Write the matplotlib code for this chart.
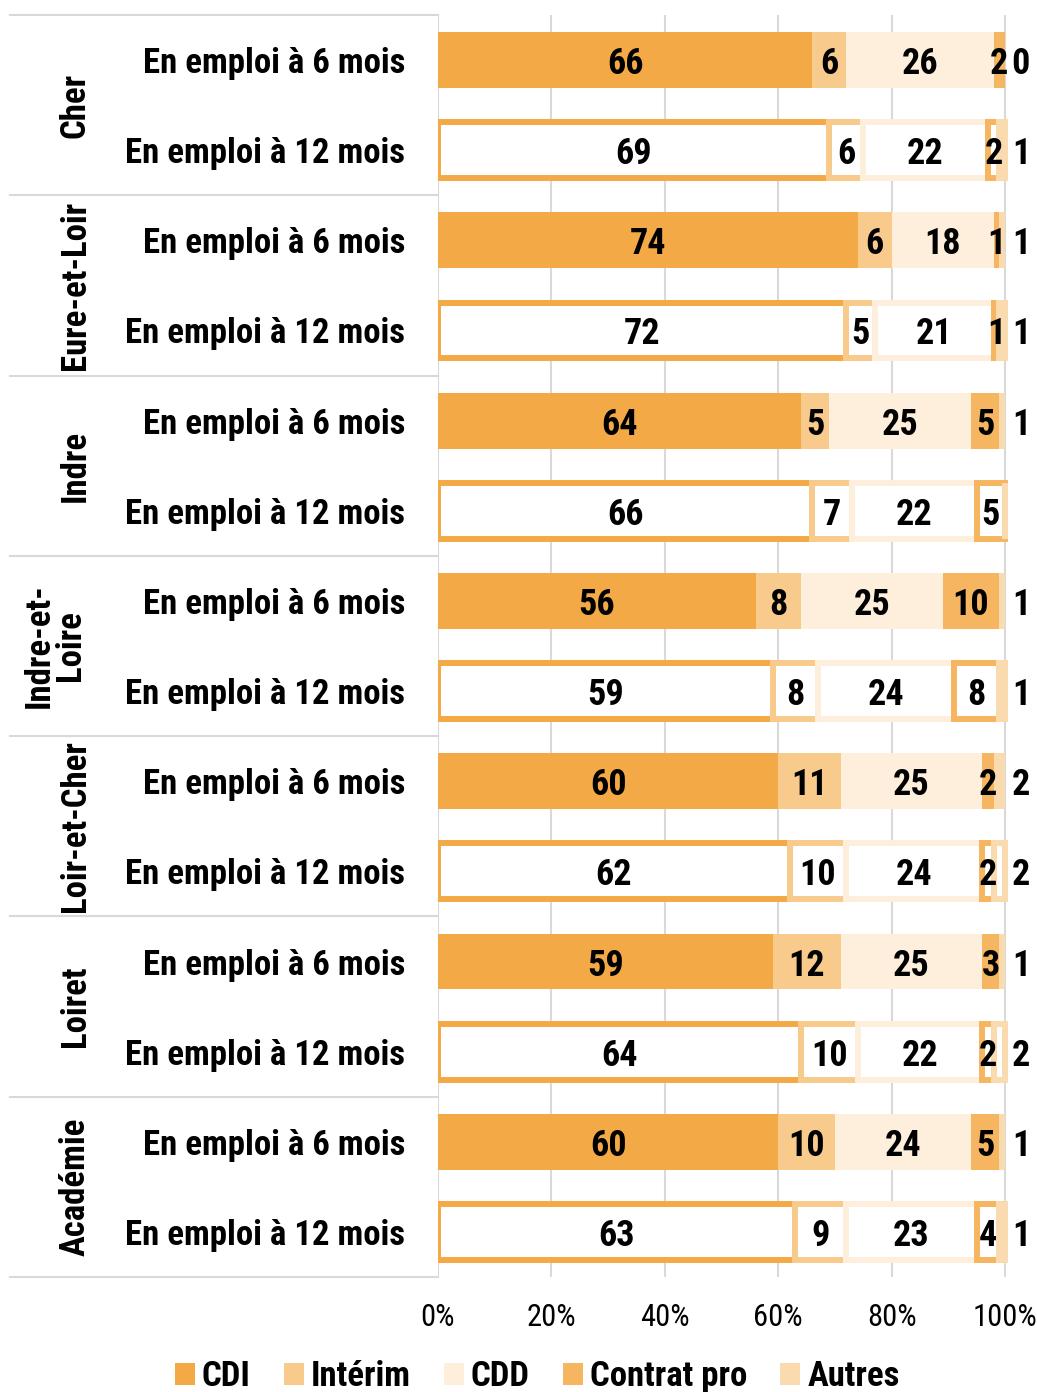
import matplotlib
matplotlib.use("Agg")
import matplotlib.pyplot as plt
from matplotlib import font_manager
from matplotlib.transforms import blended_transform_factory
from matplotlib.patches import Patch

groups = ["Cher", "Eure-et-Loir", "Indre", "Indre-et-\nLoire", "Loir-et-Cher", "Loiret", "Académie"]
periods = ["En emploi à 6 mois", "En emploi à 12 mois"]
series = ["CDI", "Intérim", "CDD", "Contrat pro", "Autres"]
colors = ["#F4A947", "#F8CB8C", "#FDEFDB", "#F6B661", "#FADBAF"]

# one row per (group, period), 6 mois first
cdi = [66, 69, 74, 72, 64, 66, 56, 59, 60, 62, 59, 64, 60, 63]
interim = [6, 6, 6, 5, 5, 7, 8, 8, 11, 10, 12, 10, 10, 9]
cdd = [26, 22, 18, 21, 25, 22, 25, 24, 25, 24, 25, 22, 24, 23]
contrat_pro = [2, 2, 1, 1, 5, 5, 10, 8, 2, 2, 3, 2, 5, 4]
autres = [0, 1, 1, 1, 1, None, 1, 1, 2, 2, 1, 2, 1, 1]

names = {f.name for f in font_manager.fontManager.ttflist}
narrow = next((f for f in ["Roboto Condensed", "PT Sans Narrow", "Liberation Sans"] if f in names),
              "DejaVu Sans")
plt.rcParams["font.family"] = [narrow, "DejaVu Sans"]

W, H = 1037, 1392
fig = plt.figure(figsize=(W / 100, H / 100), dpi=100)
ax = fig.add_axes([438 / W, 1 - 1277 / H, 1 - 438 / W, 1262 / H])

n = len(cdi)
rows = list(range(n))
data = [cdi, interim, cdd, contrat_pro, autres]
left = [0.0] * n
for k, (vals, col) in enumerate(zip(data, colors)):
    for i in rows:
        v = vals[i] if vals[i] is not None else 0
        if i % 2 == 0:
            ax.barh(i, v, left=left[i], height=0.62, color=col, edgecolor="none", zorder=2)
        else:
            ax.barh(i, v, left=left[i], height=0.62, facecolor="white", edgecolor=col,
                    linewidth=4.3, zorder=2)
        if vals[i] is not None:
            if k == 4:
                x = 102.8
            else:
                x = left[i] + v / 2
            ax.text(x, i, str(vals[i]), ha="center", va="center_baseline", fontsize=26,
                    fontweight="bold", color="black", zorder=4)
        left[i] += v

ax.set_xlim(0, (W - 438) / 5.67)
ax.set_ylim(n - 0.5, -0.5)
ax.set_xticks([0, 20, 40, 60, 80, 100])
ax.set_xticklabels(["0%", "20%", "40%", "60%", "80%", "100%"], fontsize=22)
ax.tick_params(axis="x", length=0, pad=19)
ax.set_yticks([])
for s in ax.spines.values():
    s.set_visible(False)
ax.grid(axis="x", color="#D9D9D9", linewidth=1.5, zorder=0)

tr = blended_transform_factory(ax.transAxes, ax.transData)
for i in rows:
    ax.text(-0.055, i, periods[i % 2], transform=tr, ha="right", va="center_baseline",
            fontsize=25, fontweight="bold")
for g, name in enumerate(groups):
    xg = -0.64 if "\n" in name else -0.606
    ax.text(xg, 2 * g + 0.5, name, transform=tr, ha="center", va="center",
            rotation=90, fontsize=25, fontweight="bold", linespacing=0.95)
for g in range(len(groups) + 1):
    ax.plot([-0.714, 0], [2 * g - 0.5] * 2, transform=tr, color="#D9D9D9",
            linewidth=1.5, clip_on=False)

handles = [Patch(facecolor=c, edgecolor="none") for c in colors]
fig.legend(handles, series, loc="center", bbox_to_anchor=(0.518, 0.011), ncol=5,
           frameon=False, prop={"weight": "bold", "size": 25}, handlelength=0.58,
           handleheight=0.58, handletextpad=0.2, columnspacing=0.95)

fig.savefig("out.png", dpi=100)
